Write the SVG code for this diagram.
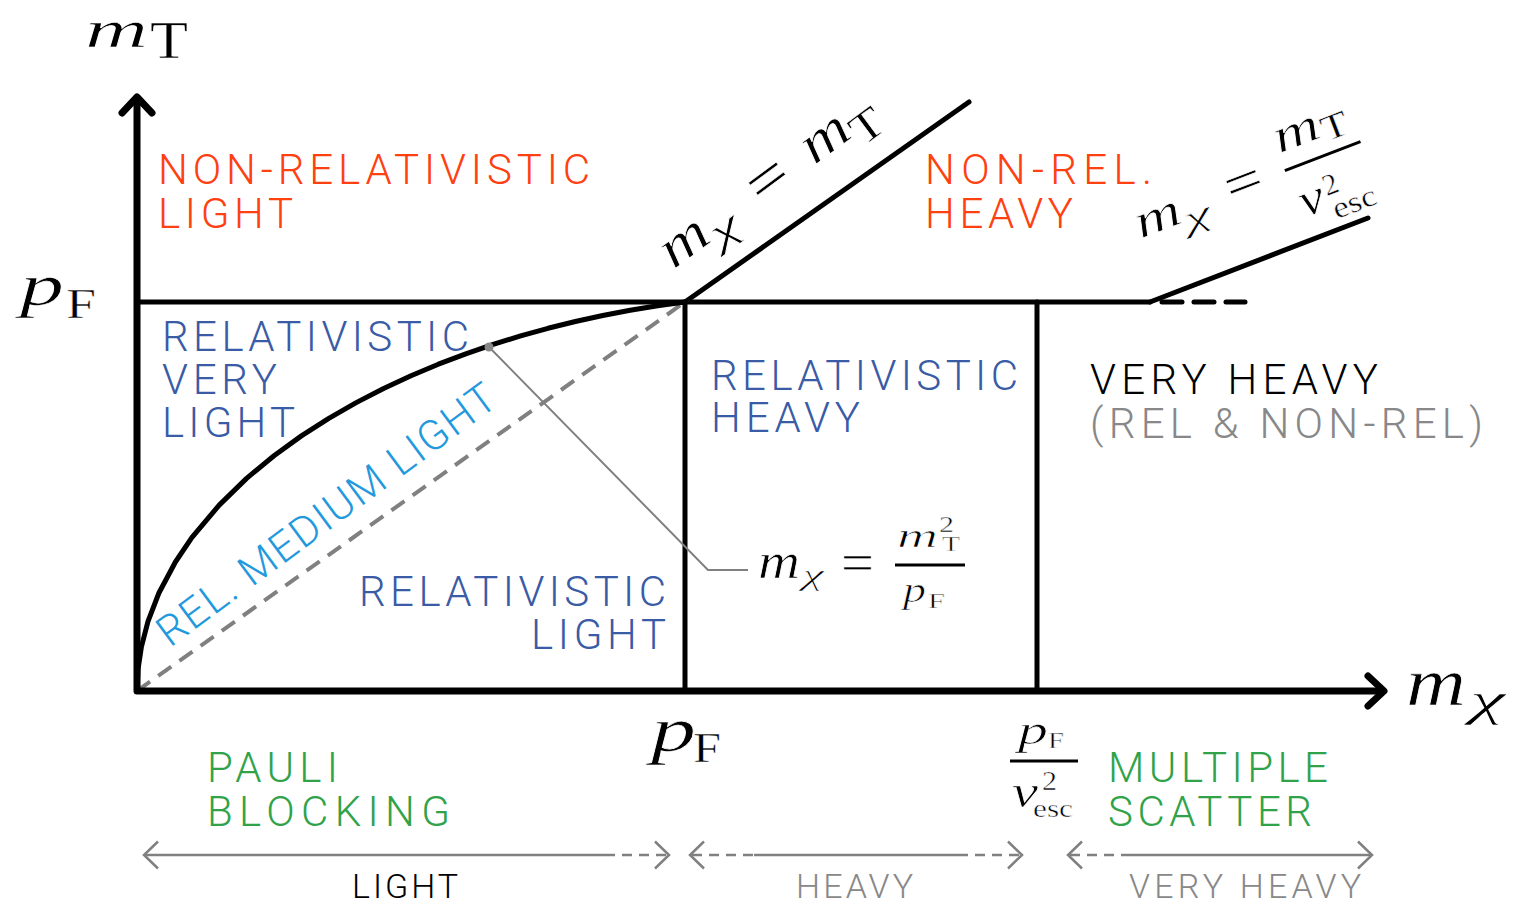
<svg xmlns="http://www.w3.org/2000/svg" width="1537" height="908" viewBox="0 0 1537 908">
<style>
.s{font-family:Roboto,"Liberation Sans",sans-serif;font-weight:300;font-size:42px}
.b{font-size:34px}
.mi{font-family:"Liberation Serif",serif;font-style:italic;stroke:#fff;stroke-width:0.7}
.mr{font-family:"Liberation Serif",serif;stroke:#fff;stroke-width:0.5}
.or{fill:#ff4010}.bl{fill:#3a5ba6}.lb{fill:#2299dd}.gr{fill:#30a34a}.gy{fill:#888888}.k{fill:#000000}
.ln{stroke:#000;stroke-width:5;fill:none;stroke-linecap:round;stroke-linejoin:round}
.ax{stroke:#000;stroke-width:7;fill:none;stroke-linecap:round;stroke-linejoin:round}
.ga{stroke:#808080;stroke-width:2.5;fill:none}
.gd{stroke:#808080;stroke-width:2.5;fill:none;stroke-dasharray:10 7}
.bar{stroke:#000;stroke-width:3}
</style>
<rect width="1537" height="908" fill="#ffffff"/>

<g id="connectors">
  <path d="M137,691 L685,302" stroke="#808080" stroke-width="4" stroke-dasharray="16 10" fill="none"/>
  <path class="ln" d="M137,691 L138.1,669 L141.4,646.9 L148,621.4 L158.9,593 L175.4,562 L191.8,537.7 L219.2,505.1 L246.6,478.4 L274,455.7 L301.4,435.9 L328.8,418.3 L356.2,402.6 L383.6,388.5 L411,375.8 L438.4,364.2 L465.8,353.8 L493.2,344.4 L520.6,335.9 L548,328.3 L575.4,321.5 L602.8,315.5 L630.2,310.3 L657.6,305.8 L685,302"/>
  <path class="ln" d="M137,302 H1150"/>
  <path class="ln" d="M1162,302 H1245" stroke-dasharray="20 12" stroke-linecap="butt"/>
  <path class="ln" d="M1150,302 L1368,218" stroke-width="6"/>
  <path class="ln" d="M685,302 L969,102" stroke-width="6"/>
  <path class="ln" d="M685,302 V691"/>
  <path class="ln" d="M1037,302 V691"/>
  <path d="M489,347 L708,570 H748" stroke="#808080" stroke-width="2" fill="none"/>
  <circle cx="489" cy="347" r="4.5" fill="#888888"/>
  <path class="ax" d="M137,99 V691 H1381"/>
  <path class="ax" d="M122,113 L137,97 L152,113"/>
  <path class="ax" d="M1368,676 L1384,691 L1368,706"/>
  <path class="ga" d="M144,855 H605"/>
  <path class="gd" d="M605,855 H667"/>
  <path class="ga" d="M158,841.5 L144,855 L158,868.5"/>
  <path class="ga" d="M655,841.5 L669,855 L655,868.5"/>
  <path class="gd" d="M692,855 H754"/>
  <path class="ga" d="M754,855 H958"/>
  <path class="gd" d="M958,855 H1020"/>
  <path class="ga" d="M704,841.5 L690,855 L704,868.5"/>
  <path class="ga" d="M1008,841.5 L1022,855 L1008,868.5"/>
  <path class="gd" d="M1070,855 H1131"/>
  <path class="ga" d="M1131,855 H1372"/>
  <path class="ga" d="M1082,841.5 L1068,855 L1082,868.5"/>
  <path class="ga" d="M1358,841.5 L1372,855 L1358,868.5"/>
</g>

<g id="region-nonrel-light">
  <text class="s or" x="158" y="184" textLength="432" lengthAdjust="spacing">NON-RELATIVISTIC</text>
  <text class="s or" x="158" y="228" textLength="135" lengthAdjust="spacing">LIGHT</text>
</g>
<g id="region-nonrel-heavy">
  <text class="s or" x="925" y="184" textLength="227" lengthAdjust="spacing">NON-REL.</text>
  <text class="s or" x="925" y="228" textLength="148" lengthAdjust="spacing">HEAVY</text>
</g>
<g id="region-rel-very-light">
  <text class="s bl" x="162" y="351" textLength="307" lengthAdjust="spacing">RELATIVISTIC</text>
  <text class="s bl" x="162" y="394" textLength="115" lengthAdjust="spacing">VERY</text>
  <text class="s bl" x="162" y="437" textLength="133" lengthAdjust="spacing">LIGHT</text>
</g>
<g id="region-rel-heavy">
  <text class="s bl" x="711" y="390" textLength="307" lengthAdjust="spacing">RELATIVISTIC</text>
  <text class="s bl" x="711" y="432" textLength="149" lengthAdjust="spacing">HEAVY</text>
</g>
<g id="region-rel-light">
  <text class="s bl" x="359" y="606" textLength="307" lengthAdjust="spacing">RELATIVISTIC</text>
  <text class="s bl" x="531" y="649" textLength="135" lengthAdjust="spacing">LIGHT</text>
</g>
<g id="region-very-heavy">
  <text class="s k" x="1090" y="394" textLength="288" lengthAdjust="spacing">VERY HEAVY</text>
  <text class="s gy" x="1090" y="438" textLength="393" lengthAdjust="spacing">(REL &amp; NON-REL)</text>
</g>
<g id="region-rel-medium-light">
  <text class="s lb" transform="translate(170,648) rotate(-36.5)" x="0" y="0" textLength="410" lengthAdjust="spacing">REL. MEDIUM LIGHT</text>
</g>
<g id="pauli">
  <text class="s gr" x="207" y="782" textLength="131" lengthAdjust="spacing">PAULI</text>
  <text class="s gr" x="207" y="826" textLength="243" lengthAdjust="spacing">BLOCKING</text>
</g>
<g id="multiple">
  <text class="s gr" x="1108" y="782" textLength="220" lengthAdjust="spacing">MULTIPLE</text>
  <text class="s gr" x="1108" y="826" textLength="204" lengthAdjust="spacing">SCATTER</text>
</g>
<g id="ranges">
  <text class="s b k" x="352" y="898" textLength="106" lengthAdjust="spacing">LIGHT</text>
  <text class="s b gy" x="796" y="898" textLength="117" lengthAdjust="spacing">HEAVY</text>
  <text class="s b gy" x="1129" y="898" textLength="232" lengthAdjust="spacing">VERY HEAVY</text>
</g>

<g id="label-mT">
  <text class="mi" x="85" y="47" font-size="52" textLength="63" lengthAdjust="spacingAndGlyphs">m</text>
  <text class="mr" x="150" y="58" font-size="52" textLength="38" lengthAdjust="spacingAndGlyphs">T</text>
</g>
<g id="label-pF-left">
  <text class="mi" x="20" y="305" font-size="60" textLength="44" lengthAdjust="spacingAndGlyphs">p</text>
  <text class="mr" x="66" y="318" font-size="42" textLength="30" lengthAdjust="spacingAndGlyphs">F</text>
</g>
<g id="label-mchi">
  <text class="mi" x="1406" y="705" font-size="68" textLength="60" lengthAdjust="spacingAndGlyphs">m</text>
  <text class="mi" x="1470" y="715" font-size="47" textLength="35" lengthAdjust="spacingAndGlyphs">χ</text>
</g>
<g id="label-pF-bottom">
  <text class="mi" x="651" y="751" font-size="64" textLength="45" lengthAdjust="spacingAndGlyphs">p</text>
  <text class="mr" x="693" y="762" font-size="42" textLength="28" lengthAdjust="spacingAndGlyphs">F</text>
</g>
<g id="label-pF-vesc">
  <text class="mi" x="1018" y="744" font-size="40" textLength="30" lengthAdjust="spacingAndGlyphs">p</text>
  <text class="mr" x="1048" y="748" font-size="24" textLength="16" lengthAdjust="spacingAndGlyphs">F</text>
  <line class="bar" x1="1010" y1="761" x2="1078" y2="761"/>
  <text class="mi" x="1012" y="807" font-size="46" textLength="26" lengthAdjust="spacingAndGlyphs">v</text>
  <text class="mr" x="1042" y="790" font-size="28" textLength="15" lengthAdjust="spacingAndGlyphs">2</text>
  <text class="mr" x="1033" y="817" font-size="26" textLength="40" lengthAdjust="spacingAndGlyphs">esc</text>
</g>
<g id="label-curve">
  <text class="mi" x="758" y="578" font-size="50" textLength="42" lengthAdjust="spacingAndGlyphs">m</text>
  <text class="mi" x="802" y="585" font-size="30" textLength="22" lengthAdjust="spacingAndGlyphs">χ</text>
  <text class="mr" x="841" y="581" font-size="54" textLength="33" lengthAdjust="spacingAndGlyphs">=</text>
  <line class="bar" x1="895" y1="565" x2="965" y2="565"/>
  <text class="mi" x="897" y="547" font-size="33" textLength="41" lengthAdjust="spacingAndGlyphs">m</text>
  <text class="mr" x="939" y="532" font-size="24" textLength="15" lengthAdjust="spacingAndGlyphs">2</text>
  <text class="mr" x="942" y="551" font-size="21" textLength="18" lengthAdjust="spacingAndGlyphs">T</text>
  <text class="mi" x="903" y="602" font-size="36" textLength="23" lengthAdjust="spacingAndGlyphs">p</text>
  <text class="mr" x="928" y="608" font-size="22" textLength="17" lengthAdjust="spacingAndGlyphs">F</text>
</g>
<g id="label-diag" transform="translate(673.6,269.7) rotate(-36.5)">
  <text class="mi" x="0" y="0" font-size="56" textLength="50" lengthAdjust="spacingAndGlyphs">m</text>
  <text class="mi" x="50" y="10" font-size="40" textLength="30" lengthAdjust="spacingAndGlyphs">χ</text>
  <text class="mr" x="108" y="3" font-size="62" textLength="42" lengthAdjust="spacingAndGlyphs">=</text>
  <text class="mi" x="175" y="0" font-size="56" textLength="50" lengthAdjust="spacingAndGlyphs">m</text>
  <text class="mr" x="225" y="14" font-size="44" textLength="32" lengthAdjust="spacingAndGlyphs">T</text>
</g>
<g id="label-vesc-line" transform="translate(1140,237) rotate(-21)">
  <text class="mi" x="0" y="2" font-size="48" textLength="47" lengthAdjust="spacingAndGlyphs">m</text>
  <text class="mi" x="47" y="12" font-size="34" textLength="28" lengthAdjust="spacingAndGlyphs">χ</text>
  <text class="mr" x="97" y="4" font-size="56" textLength="38" lengthAdjust="spacingAndGlyphs">=</text>
  <line class="bar" x1="159" y1="-10" x2="240" y2="-10" stroke-width="3.5"/>
  <text class="mi" x="160" y="-28" font-size="48" textLength="47" lengthAdjust="spacingAndGlyphs">m</text>
  <text class="mr" x="208" y="-22" font-size="36" textLength="27" lengthAdjust="spacingAndGlyphs">T</text>
  <text class="mi" x="161" y="41" font-size="48" textLength="25" lengthAdjust="spacingAndGlyphs">v</text>
  <text class="mr" x="189" y="29" font-size="30" textLength="15" lengthAdjust="spacingAndGlyphs">2</text>
  <text class="mr" x="190" y="54" font-size="30" textLength="45" lengthAdjust="spacingAndGlyphs">esc</text>
</g>
</svg>
